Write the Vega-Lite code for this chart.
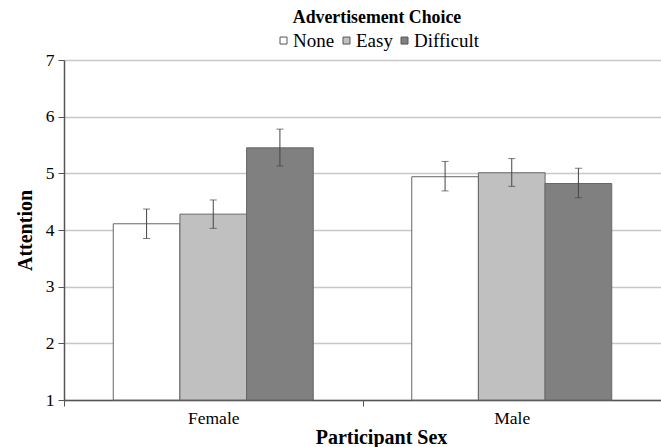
{
  "$schema": "https://vega.github.io/schema/vega-lite/v6.json",
  "width": 597,
  "height": 340,
  "autosize": {"type": "none"},
  "padding": {"left": 64, "top": 60, "right": 0, "bottom": 47},
  "config": {
    "font": "Liberation Serif",
    "view": {"stroke": null},
    "axis": {"labelFont": "Liberation Serif", "titleFont": "Liberation Serif"},
    "legend": {"labelFont": "Liberation Serif", "titleFont": "Liberation Serif"}
  },
  "data": {"values": [
    {"sex": "Female", "choice": "None", "mean": 4.11, "lo": 3.85, "hi": 4.37},
    {"sex": "Female", "choice": "Easy", "mean": 4.28, "lo": 4.03, "hi": 4.53},
    {"sex": "Female", "choice": "Difficult", "mean": 5.45, "lo": 5.13, "hi": 5.78},
    {"sex": "Male", "choice": "None", "mean": 4.94, "lo": 4.69, "hi": 5.21},
    {"sex": "Male", "choice": "Easy", "mean": 5.01, "lo": 4.77, "hi": 5.26},
    {"sex": "Male", "choice": "Difficult", "mean": 4.82, "lo": 4.57, "hi": 5.09}
  ]},
  "encoding": {
    "x": {"field": "sex", "type": "nominal", "scale": {"paddingInner": 0, "paddingOuter": 0},
      "axis": {"title": "Participant Sex", "titleFontSize": 20, "titleFontWeight": "bold", "titleColor": "#000", "titleX": 317, "titleY": 43, "titleBaseline": "alphabetic",
        "labelAngle": 0, "labelFontSize": 17.5, "labelColor": "#000", "labelPadding": 3, "labelFontWeight": "normal",
        "tickBand": "extent", "tickSize": 6, "tickColor": "#555", "domainColor": "#555", "domainWidth": 1.5}},
    "xOffset": {"field": "choice", "sort": ["None", "Easy", "Difficult"], "scale": {"paddingInner": 0, "paddingOuter": 0.739}}
  },
  "layer": [
    {
      "mark": {"type": "bar", "stroke": "#666", "strokeWidth": 1},
      "encoding": {
        "y": {"field": "mean", "type": "quantitative", "scale": {"domain": [1, 7], "zero": false},
          "axis": {"title": "Attention", "titleFontSize": 20, "titleFontWeight": "bold", "titleColor": "#000", "titlePadding": 10,
            "values": [1, 2, 3, 4, 5, 6, 7], "format": "d", "labelFontSize": 17.5, "labelColor": "#000", "labelPadding": 4,
            "grid": true, "gridColor": "#c8c8c8", "gridWidth": 1.5, "tickSize": 6, "tickColor": "#555", "domainColor": "#555", "domainWidth": 1.5}},
        "y2": {"datum": 1},
        "color": {"field": "choice", "type": "nominal",
          "scale": {"domain": ["None", "Easy", "Difficult"], "range": ["#ffffff", "#c0c0c0", "#808080"]},
          "legend": {"orient": "none", "legendX": 210, "legendY": -51, "direction": "horizontal", "title": "Advertisement Choice",
            "titleFontSize": 17.8, "titleFontWeight": "bold", "titleColor": "#000", "titleAnchor": "middle", "titlePadding": 4,
            "labelFontSize": 19, "labelColor": "#000", "symbolType": "square", "symbolSize": 49, "symbolStrokeColor": "#555",
            "symbolStrokeWidth": 1, "columnPadding": 2, "labelOffset": 0}}
      }
    },
    {
      "mark": {"type": "rule", "color": "#444", "strokeWidth": 1},
      "encoding": {"y": {"field": "lo", "type": "quantitative"}, "y2": {"field": "hi"}}
    },
    {
      "mark": {"type": "tick", "color": "#444", "size": 7, "thickness": 1},
      "encoding": {"y": {"field": "lo", "type": "quantitative"}}
    },
    {
      "mark": {"type": "tick", "color": "#444", "size": 7, "thickness": 1},
      "encoding": {"y": {"field": "hi", "type": "quantitative"}}
    }
  ]
}
